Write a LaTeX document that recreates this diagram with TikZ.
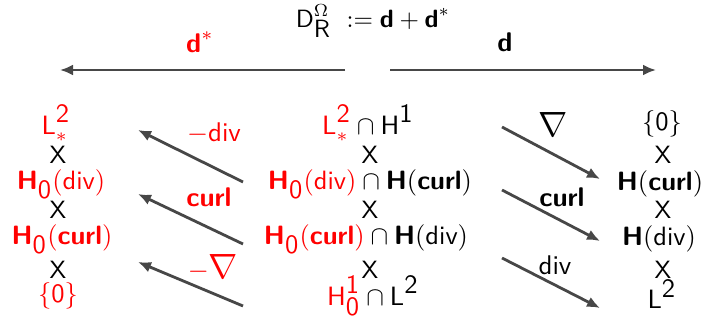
\documentclass[tikz,border=0pt]{standalone}
\usetikzlibrary{arrows.meta}
\newcommand{\sR}[1]{\textcolor{red}{#1}}
\newcommand{\Lt}{\textsf{L}^{\textsf{2}}}
\newcommand{\bH}{\textsf{\textbf{H}}}
\newcommand{\bcurl}{\textsf{\textbf{curl}}}
\newcommand{\sdiv}{\textsf{div}}
\newcommand{\bd}{\textsf{\textbf{d}}}
\newcommand{\bignabla}{\scalebox{1.3}{$\nabla$}}
\begin{document}
\begin{tikzpicture}[x=1pt,y=-1pt,
  every node/.style={font=\sffamily, inner sep=0pt},
  body/.style={scale=2.65},
  ttl/.style={scale=2.5},
  lbl/.style={scale=2.7},
  xx/.style={scale=2.5},
  arr/.style={draw=black!72, line width=2.8pt, -{Latex[length=13pt,width=11pt]}},
  redt/.style={text=red}]
\useasboundingbox (0,0) rectangle (707,320);
\node[ttl] (title) at (373,21) {$\textsf{D}^{\Omega}_{\textsf{R}}\ := \bd+\bd^{*}$};
\node[redt,lbl] (ds) at (200,42) {$\bd^{*}$};
\node[lbl] (d) at (505,42) {$\bd$};
\coordinate (la) at (345,70); \coordinate (lb) at (60,70);
\coordinate (ra) at (390,70); \coordinate (rb) at (656,70);
\draw[arr] (la) -- (lb);
\draw[arr] (ra) -- (rb);
% left column
\node[body,redt] (l1) at (56,123) {$\Lt_{*}$};
\node[xx] (lx1) at (58,155) {X};
\node[body,redt] (l2) at (61,184) {$\bH_{\textsf{0}}(\sdiv)$};
\node[xx] (lx2) at (58,210) {X};
\node[body,redt] (l3) at (62,239) {$\bH_{\textsf{0}}(\bcurl)$};
\node[xx] (lx3) at (58,270) {X};
\node[body,redt] (l4) at (58,296) {$\{\textsf{0}\}$};
% middle column
\node[body] (m1) at (368,123) {$\sR{\Lt_{*}}\cap\textsf{H}^{\textsf{1}}$};
\node[xx] (mx1) at (370,155) {X};
\node[body] (m2) at (370,184) {$\sR{\bH_{\textsf{0}}(\sdiv)}\cap\bH(\bcurl)$};
\node[xx] (mx2) at (370,210) {X};
\node[body] (m3) at (366,239) {$\sR{\bH_{\textsf{0}}(\bcurl)}\cap\bH(\sdiv)$};
\node[xx] (mx3) at (370,270) {X};
\node[body] (m4) at (373,296) {$\sR{\textsf{H}^{\textsf{1}}_{\textsf{0}}}\cap\Lt$};
% right column
\node[body] (r1) at (662,124) {$\{\textsf{0}\}$};
\node[xx] (rx1) at (663,155) {X};
\node[body] (r2) at (660,184) {$\bH(\bcurl)$};
\node[xx] (rx2) at (663,210) {X};
\node[body] (r3) at (659,239) {$\bH(\sdiv)$};
\node[xx] (rx3) at (663,270) {X};
\node[body] (r4) at (662,294) {$\Lt$};
% left arrows
\coordinate (a1s) at (243,182); \coordinate (a1e) at (138,130);
\coordinate (a2s) at (243,244); \coordinate (a2e) at (138,194);
\coordinate (a3s) at (243,306); \coordinate (a3e) at (138,262);
\draw[arr] (a1s) -- (a1e);
\draw[arr] (a2s) -- (a2e);
\draw[arr] (a3s) -- (a3e);
\node[redt,lbl] (la1) at (214,133) {$-\sdiv$};
\node[redt,lbl] (la2) at (209,197) {$\bcurl$};
\node[redt,lbl] (la3) at (213,268) {$-\bignabla$};
% right arrows
\coordinate (b1s) at (502,127); \coordinate (b1e) at (600,179);
\coordinate (b2s) at (502,190); \coordinate (b2e) at (600,241);
\coordinate (b3s) at (502,258); \coordinate (b3e) at (600,308);
\draw[arr] (b1s) -- (b1e);
\draw[arr] (b2s) -- (b2e);
\draw[arr] (b3s) -- (b3e);
\node[lbl] (rl1) at (553,125) {$\bignabla$};
\node[lbl] (rl2) at (562,197) {$\bcurl$};
\node[lbl] (rl3) at (555,265) {$\sdiv$};
\end{tikzpicture}
\end{document}
